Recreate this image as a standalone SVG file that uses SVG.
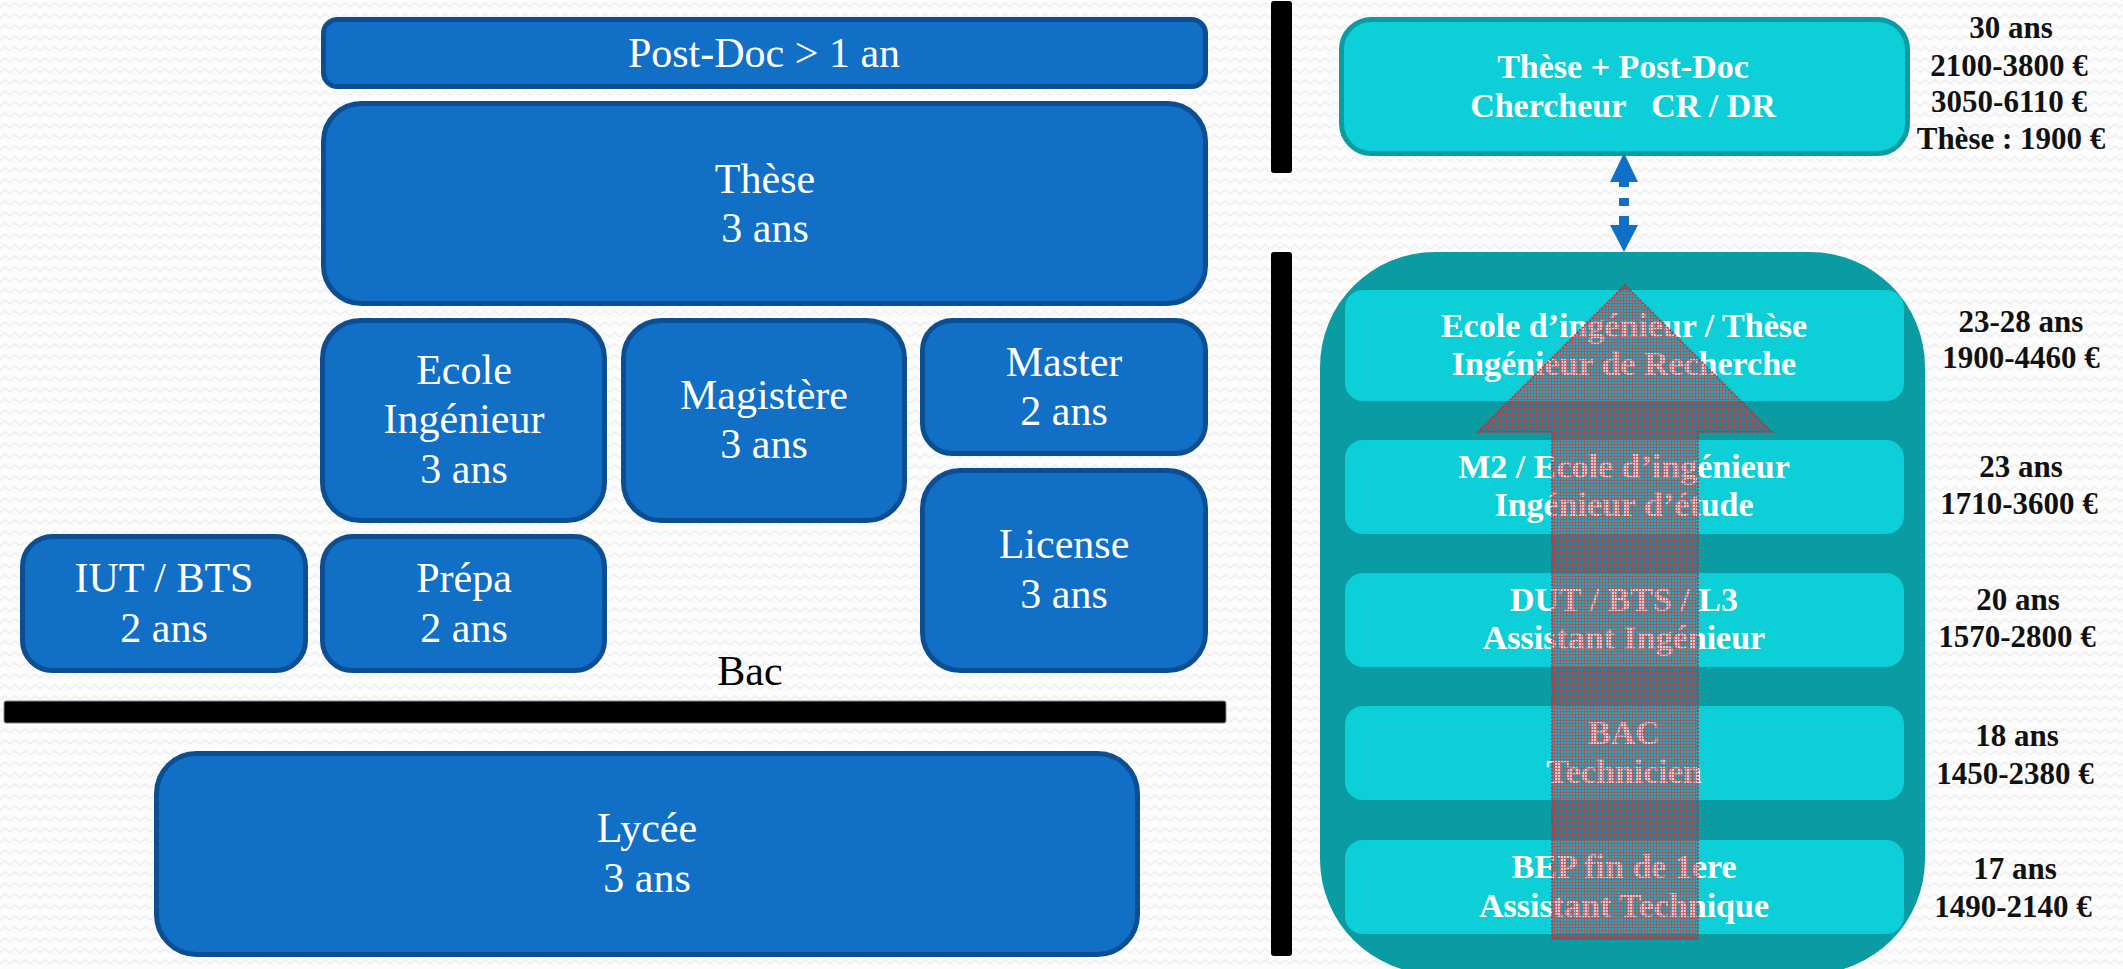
<svg xmlns="http://www.w3.org/2000/svg" width="2123" height="969" viewBox="0 0 2123 969">
  <defs>
    <!-- faint zigzag paper texture -->
    <pattern id="paper" width="10" height="11" patternUnits="userSpaceOnUse">
      <rect width="10" height="11" fill="#fcfcfc"/>
      <path d="M0,7 L5,3 L10,7" fill="none" stroke="#efefef" stroke-width="1.5"/>
    </pattern>
    <!-- red screen used by the progression arrow -->
    <pattern id="screen" width="3" height="3" patternUnits="userSpaceOnUse">
      <rect width="3" height="3" fill="#5a3038" fill-opacity="0.22"/>
      <rect x="0" y="0" width="3" height="1" fill="#d23a4c" fill-opacity="0.7"/>
      <rect x="0" y="1" width="1" height="2" fill="#d23a4c" fill-opacity="0.7"/>
    </pattern>
    <style>
      .blk { fill: #116fc6; stroke: #0b4f92; stroke-width: 5; }
      .lt { font-family: "Liberation Serif", "DejaVu Serif", serif; font-size: 42px; fill: #ffffff; text-anchor: middle; }
      .bar { fill: #000000; }
      .top { fill: #0dcfd8; stroke: #0a9ba3; stroke-width: 5; }
      .row { fill: #0dcfd8; }
      .rt { font-family: "Liberation Serif", "DejaVu Serif", serif; font-weight: bold; font-size: 34px; fill: #ffffff; text-anchor: middle; }
      .pay { font-family: "Liberation Serif", "DejaVu Serif", serif; font-weight: bold; font-size: 31px; fill: #111111; text-anchor: middle; }
      .conn { fill: #0e70c6; }
    </style>
  </defs>

  <rect width="2123" height="969" fill="url(#paper)"/>

  <!-- study paths -->
  <g id="postdoc">
    <rect class="blk" x="323.5" y="19.5" width="882" height="67" rx="14"/>
    <text class="lt" x="764" y="67">Post-Doc &gt; 1 an</text>
  </g>
  <g id="these">
    <rect class="blk" x="323.5" y="103.5" width="882" height="200" rx="38"/>
    <text class="lt" x="765" y="193">Thèse</text>
    <text class="lt" x="765" y="242">3 ans</text>
  </g>
  <g id="ecole">
    <rect class="blk" x="322.5" y="320.5" width="282" height="200" rx="38"/>
    <text class="lt" x="464" y="384">Ecole</text>
    <text class="lt" x="464" y="433">Ingénieur</text>
    <text class="lt" x="464" y="483">3 ans</text>
  </g>
  <g id="magistere">
    <rect class="blk" x="623.5" y="320.5" width="281" height="200" rx="38"/>
    <text class="lt" x="764" y="409">Magistère</text>
    <text class="lt" x="764" y="458">3 ans</text>
  </g>
  <g id="master">
    <rect class="blk" x="922.5" y="320.5" width="283" height="133" rx="30"/>
    <text class="lt" x="1064" y="376">Master</text>
    <text class="lt" x="1064" y="425">2 ans</text>
  </g>
  <g id="license">
    <rect class="blk" x="922.5" y="470.5" width="283" height="200" rx="38"/>
    <text class="lt" x="1064" y="558">License</text>
    <text class="lt" x="1064" y="608">3 ans</text>
  </g>
  <g id="iut">
    <rect class="blk" x="22.5" y="536.5" width="283" height="134" rx="30"/>
    <text class="lt" x="164" y="592">IUT / BTS</text>
    <text class="lt" x="164" y="642">2 ans</text>
  </g>
  <g id="prepa">
    <rect class="blk" x="322.5" y="536.5" width="282" height="134" rx="30"/>
    <text class="lt" x="464" y="592">Prépa</text>
    <text class="lt" x="464" y="642">2 ans</text>
  </g>
  <g id="bac">
    <text x="750" y="685" font-family="Liberation Serif, DejaVu Serif, serif" font-size="42" fill="#000000" text-anchor="middle">Bac</text>
    <rect class="bar" x="4" y="701" width="1222" height="22" rx="2" stroke="#888888" stroke-width="1"/>
  </g>
  <g id="lycee">
    <rect class="blk" x="156.5" y="753.5" width="981" height="201" rx="40"/>
    <text class="lt" x="647" y="842">Lycée</text>
    <text class="lt" x="647" y="892">3 ans</text>
  </g>

  <!-- separators -->
  <g id="separators">
    <rect class="bar" x="1271" y="1" width="21" height="172" rx="3"/>
    <rect class="bar" x="1271" y="252" width="21" height="704" rx="3"/>
  </g>

  <!-- research career -->
  <g id="chercheur">
    <rect class="top" x="1341.5" y="19.5" width="566" height="134" rx="30"/>
    <text class="rt" x="1623" y="78">Thèse + Post-Doc</text>
    <text class="rt" x="1623" y="117" style="white-space:pre">Chercheur   CR / DR</text>
    <text class="pay" x="2011" y="38">30 ans</text>
    <text class="pay" x="2009" y="76">2100-3800 €</text>
    <text class="pay" x="2009" y="112">3050-6110 €</text>
    <text class="pay" x="2011" y="149">Thèse : 1900 €</text>
  </g>

  <!-- technical careers -->
  <g id="carrieres">
    <rect x="1320" y="252" width="605" height="722" rx="115" fill="#0a9ba3"/>
    <g id="ingenieur-recherche">
      <rect class="row" x="1345" y="290" width="559" height="111" rx="18"/>
      <text class="rt" x="1624" y="337">Ecole d’ingénieur / Thèse</text>
      <text class="rt" x="1624" y="375">Ingénieur de Recherche</text>
      <text class="pay" x="2021" y="332">23-28 ans</text>
      <text class="pay" x="2021" y="368">1900-4460 €</text>
    </g>
    <g id="ingenieur-etude">
      <rect class="row" x="1345" y="440" width="559" height="94" rx="18"/>
      <text class="rt" x="1624" y="478">M2 / Ecole d’ingénieur</text>
      <text class="rt" x="1624" y="516">Ingénieur d’étude</text>
      <text class="pay" x="2021" y="477">23 ans</text>
      <text class="pay" x="2019" y="514">1710-3600 €</text>
    </g>
    <g id="assistant-ingenieur">
      <rect class="row" x="1345" y="573" width="559" height="94" rx="18"/>
      <text class="rt" x="1624" y="611">DUT / BTS / L3</text>
      <text class="rt" x="1624" y="649">Assistant Ingénieur</text>
      <text class="pay" x="2018" y="610">20 ans</text>
      <text class="pay" x="2017" y="647">1570-2800 €</text>
    </g>
    <g id="technicien">
      <rect class="row" x="1345" y="706" width="559" height="94" rx="18"/>
      <text class="rt" x="1624" y="744">BAC</text>
      <text class="rt" x="1624" y="783">Technicien</text>
      <text class="pay" x="2017" y="746">18 ans</text>
      <text class="pay" x="2015" y="784">1450-2380 €</text>
    </g>
    <g id="assistant-technique">
      <rect class="row" x="1345" y="840" width="559" height="94" rx="18"/>
      <text class="rt" x="1624" y="878">BEP fin de 1ere</text>
      <text class="rt" x="1624" y="917">Assistant Technique</text>
      <text class="pay" x="2015" y="879">17 ans</text>
      <text class="pay" x="2013" y="917">1490-2140 €</text>
    </g>
    <!-- progression arrow laid over the rows -->
    <polygon id="progression" points="1625,285 1772,432 1698,432 1698,939 1552,939 1552,432 1478,432"
             fill="url(#screen)" stroke="#c0303a" stroke-width="2" stroke-dasharray="2 1.5" stroke-opacity="0.85"/>
  </g>

  <!-- connector between research career and technical careers -->
  <g id="connectors">
    <line x1="1624" y1="182" x2="1624" y2="225" stroke="#0e70c6" stroke-width="10" stroke-dasharray="5 11 8 10 9"/>
    <polygon class="conn" points="1624,153 1638,182 1610,182"/>
    <polygon class="conn" points="1624,252 1638,225 1610,225"/>
  </g>
</svg>
